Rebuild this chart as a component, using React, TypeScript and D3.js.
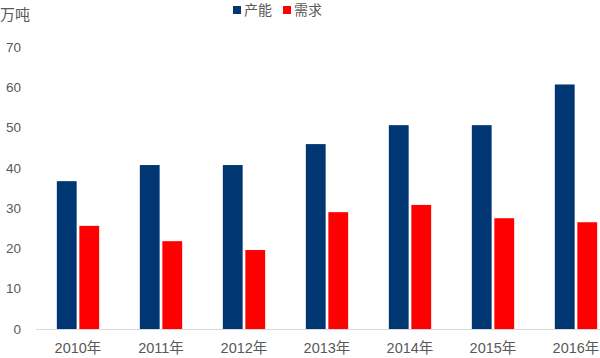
import React from "react";
import * as d3 from "d3";

const years = ["2010年", "2011年", "2012年", "2013年", "2014年", "2015年", "2016年"];
const capacity = [36.7, 40.7, 40.7, 45.9, 50.6, 50.6, 60.7];
const demand = [25.6, 21.8, 19.6, 29.0, 30.8, 27.5, 26.5];
const seriesNames = ["产能", "需求"];
const yTicks = [0, 10, 20, 30, 40, 50, 60, 70];

const W = 600;
const H = 358;
const colors = ["#003773", "#fe0000"];
const font = "'Liberation Sans', 'Noto Sans CJK SC', sans-serif";
const textColor = "#595959";

export default function App() {
  const x0 = d3.scaleBand<string>().domain(years).range([36.5, 617.5]).paddingInner(0.49).paddingOuter(0.245);
  const x1 = d3.scaleBand<string>().domain(seriesNames).range([0, x0.bandwidth()]).paddingInner(0.12);
  const y = d3.scaleLinear().domain([0, 70]).range([329, 47]);
  const data = [capacity, demand];

  return (
    <svg width={W} height={H} style={{ position: "absolute", left: 0, top: 0, background: "#fff" }} fontFamily={font}>
      <text x={0} y={20} fontSize={15} fill={textColor}>万吨</text>
      {/* legend */}
      <rect x={233} y={6} width={8} height={8} fill={colors[0]} />
      <text x={244} y={15} fontSize={14} fill={textColor}>{seriesNames[0]}</text>
      <rect x={283} y={6} width={8} height={8} fill={colors[1]} />
      <text x={294} y={15} fontSize={14} fill={textColor}>{seriesNames[1]}</text>
      {/* y ticks */}
      {yTicks.map((t) => (
        <text key={t} x={21} y={y(t)} dy="0.35em" textAnchor="end" fontSize={13.5} fill={textColor}>{t}</text>
      ))}
      {/* bars */}
      {years.map((yr, i) => (
        <g key={yr} transform={`translate(${x0(yr)},0)`}>
          {seriesNames.map((s, j) => (
            <rect key={s} x={x1(s)} y={y(data[j][i])} width={x1.bandwidth()} height={y(0) - y(data[j][i])} fill={colors[j]} />
          ))}
        </g>
      ))}
      {/* axis line */}
      <line x1={36} x2={600} y1={329.5} y2={329.5} stroke="#d9d9d9" />
      {years.map((yr) => (
        <text key={yr} x={(x0(yr) as number) + x0.bandwidth() / 2} y={353} textAnchor="middle" fontSize={14.5} fill={textColor}>{yr}</text>
      ))}
    </svg>
  );
}
